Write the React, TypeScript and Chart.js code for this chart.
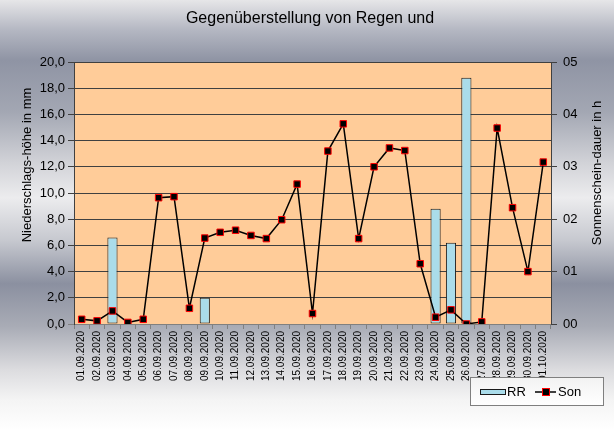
import React, { useEffect, useRef } from 'react';
import { Chart, registerables } from 'chart.js';

Chart.register(...registerables);

const categories = [
  '01.09.2020', '02.09.2020', '03.09.2020', '04.09.2020', '05.09.2020', '06.09.2020',
  '07.09.2020', '08.09.2020', '09.09.2020', '10.09.2020', '11.09.2020', '12.09.2020',
  '13.09.2020', '14.09.2020', '15.09.2020', '16.09.2020', '17.09.2020', '18.09.2020',
  '19.09.2020', '20.09.2020', '21.09.2020', '22.09.2020', '23.09.2020', '24.09.2020',
  '25.09.2020', '26.09.2020', '27.09.2020', '28.09.2020', '29.09.2020', '30.09.2020',
  '01.10.2020',
];

const rainMm = [
  0, 0, 6.6, 0, 0, 0, 0, 0, 2.0, 0, 0, 0, 0, 0, 0, 0,
  0, 0, 0, 0, 0, 0, 0, 8.8, 6.2, 18.8, 0, 0, 0, 0, 0,
];

const sunHours = [
  0.09, 0.06, 0.25, 0.03, 0.09, 2.41, 2.43, 0.30, 1.64, 1.75, 1.79, 1.69, 1.63, 1.99, 2.67, 0.20,
  3.30, 3.82, 1.63, 3.00, 3.36, 3.31, 1.15, 0.13, 0.27, 0.00, 0.04, 3.74, 2.22, 1.00, 3.09,
];

const titleText = 'Gegenüberstellung von Regen und';
const leftTitle = 'Niederschlags-höhe in mm';
const rightTitle = 'Sonnenschein-dauer in h';
const rainLabel = 'RR';
const sunLabel = 'Son';

const FONT = '"Liberation Sans", Arial, sans-serif';
const BAR_FILL = '#aadcea';

const decorPlugin = {
  id: 'decor',
  beforeDraw(chart: any) {
    const { ctx, chartArea } = chart;
    ctx.save();
    ctx.fillStyle = '#ffcc99';
    ctx.fillRect(chartArea.left, chartArea.top, chartArea.right - chartArea.left, chartArea.bottom - chartArea.top);
    ctx.restore();
  },
  afterDraw(chart: any) {
    const { ctx } = chart;
    ctx.save();
    ctx.fillStyle = '#000';
    ctx.textAlign = 'center';
    ctx.textBaseline = 'middle';
    ctx.font = `16px ${FONT}`;
    ctx.fillText(titleText, 310, 19);

    ctx.font = `13px ${FONT}`;
    ctx.save();
    ctx.translate(27, 165);
    ctx.rotate(-Math.PI / 2);
    ctx.fillText(leftTitle, 0, 0);
    ctx.restore();

    ctx.save();
    ctx.translate(597, 173);
    ctx.rotate(-Math.PI / 2);
    ctx.fillText(rightTitle, 0, 0);
    ctx.restore();

    // legend
    const lx = 470, ly = 377, lw = 133, lh = 28;
    const g = ctx.createLinearGradient(0, ly, 0, ly + lh);
    g.addColorStop(0, '#f2f2f2');
    g.addColorStop(1, '#ffffff');
    ctx.fillStyle = g;
    ctx.fillRect(lx, ly, lw, lh);
    ctx.strokeStyle = '#7f7f7f';
    ctx.lineWidth = 1;
    ctx.strokeRect(lx + 0.5, ly + 0.5, lw, lh);

    const cy = ly + 15;
    ctx.fillStyle = BAR_FILL;
    ctx.fillRect(480, cy - 3, 25, 5);
    ctx.strokeStyle = '#1a1a1a';
    ctx.strokeRect(480.5, cy - 2.5, 25, 5);

    ctx.fillStyle = '#000';
    ctx.textAlign = 'left';
    ctx.font = `13px ${FONT}`;
    ctx.fillText(rainLabel, 507, cy);

    ctx.strokeStyle = '#000';
    ctx.lineWidth = 1.5;
    ctx.beginPath();
    ctx.moveTo(535, cy);
    ctx.lineTo(556, cy);
    ctx.stroke();
    ctx.fillStyle = '#000';
    ctx.fillRect(542.5, cy - 3.5, 7, 7);
    ctx.strokeStyle = '#ff0000';
    ctx.lineWidth = 1;
    ctx.strokeRect(542.5, cy - 3.5, 7, 7);

    ctx.fillStyle = '#000';
    ctx.fillText(sunLabel, 558, cy);
    ctx.restore();
  },
};

export default function App() {
  const ref = useRef<HTMLCanvasElement | null>(null);

  useEffect(() => {
    const canvas = ref.current;
    if (!canvas) return;
    const chart = new Chart(canvas, {
      type: 'bar',
      data: {
        labels: categories,
        datasets: [
          {
            type: 'line',
            label: sunLabel,
            data: sunHours,
            yAxisID: 'y1',
            order: 0,
            borderColor: '#000000',
            borderWidth: 1.5,
            tension: 0,
            pointStyle: 'rect',
            pointRadius: 4.6,
            pointBackgroundColor: '#000000',
            pointBorderColor: '#ff0000',
            pointBorderWidth: 1,
          } as any,
          {
            type: 'bar',
            label: rainLabel,
            data: rainMm,
            yAxisID: 'y',
            order: 1,
            backgroundColor: BAR_FILL,
            borderColor: '#1a1a1a',
            borderWidth: (c: any) => (c.raw ? 1 : 0),
            borderSkipped: false,
            categoryPercentage: 1,
            barPercentage: 0.66,
          } as any,
        ],
      },
      options: {
        responsive: false,
        animation: false,
        layout: { padding: { top: 62, left: 0, right: 0, bottom: 0 } },
        font: { family: FONT },
        plugins: {
          legend: { display: false },
          title: { display: false },
          tooltip: { enabled: false },
        },
        scales: {
          x: {
            grid: { display: true, drawOnChartArea: false, drawTicks: true, tickLength: 5, color: '#808080', offset: true },
            border: { color: '#808080', width: 1 },
            ticks: { minRotation: 90, maxRotation: 90, autoSkip: false, color: '#000', padding: 2, font: { size: 10, family: FONT } },
            afterFit: (s: any) => { s.height = 106; },
          },
          y: {
            position: 'left',
            min: 0,
            max: 20,
            grid: { color: (c: any) => (c.tick && c.tick.value === 0 ? '#808080' : '#404040'), tickLength: 6, lineWidth: 1 },
            border: { color: '#404040', width: 1 },
            ticks: {
              stepSize: 2,
              color: '#000',
              padding: 3,
              font: { size: 13, family: FONT },
              callback: (v: any) => Number(v).toFixed(1).replace('.', ','),
            },
            afterFit: (s: any) => { s.width = 74; },
          },
          y1: {
            position: 'right',
            min: 0,
            max: 5,
            grid: { drawOnChartArea: false, tickLength: 6, color: '#404040' },
            border: { color: '#404040', width: 1 },
            ticks: {
              stepSize: 1,
              color: '#000',
              padding: 6,
              font: { size: 13, family: FONT },
              callback: (v: any) => '0' + Math.round(Number(v)),
            },
            afterFit: (s: any) => { s.width = 63; },
          },
        },
      } as any,
      plugins: [decorPlugin],
    });
    return () => chart.destroy();
  }, []);

  return (
    <div
      style={{
        position: 'fixed',
        left: 0,
        top: 0,
        width: 614,
        height: 430,
        background:
          'linear-gradient(to bottom, #e6e6e8 0%, #b4b7c2 7%, #8f94a4 14%, #a3a7b3 26%, #d2d3d8 38%, #ececee 46%, #c6c8cf 56%, #8b90a0 66%, #a9acb6 76%, #dcdcdf 86%, #f4f4f4 93%, #ffffff 100%)',
      }}
    >
      <canvas ref={ref} width={614} height={430} style={{ display: 'block' }} />
    </div>
  );
}
